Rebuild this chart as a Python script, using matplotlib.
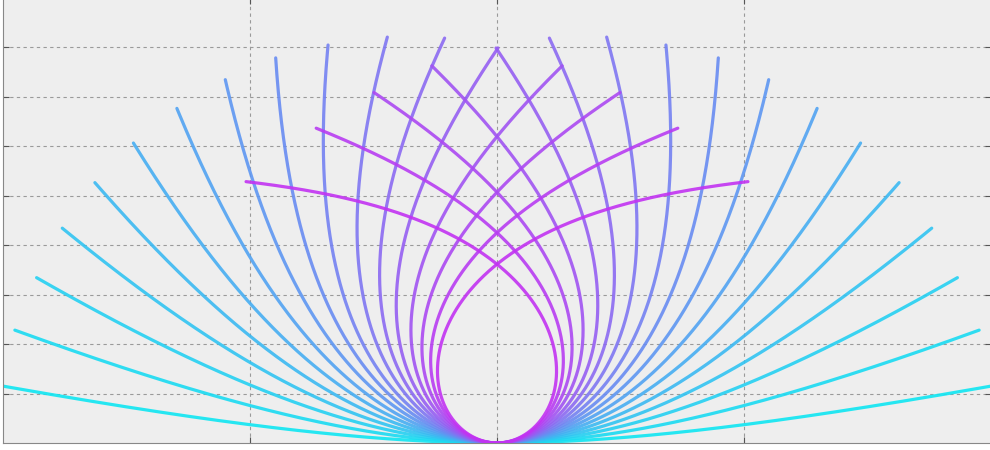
import numpy as np
import matplotlib
matplotlib.use("Agg")
import matplotlib.pyplot as plt

# Tip of every left-hand strand in data units (the right-hand strands are mirror images)
tip_x = [-5.03, -4.88, -4.66, -4.40, -4.07, -3.68, -3.24, -2.75, -2.24,
         -1.71, -1.11, -0.53, 0.01, 0.66, 1.245, 1.83, 2.54]
tip_y = [0.58, 1.14, 1.67, 2.17, 2.63, 3.03, 3.38, 3.67, 3.89,
         4.02, 4.10, 4.09, 3.99, 3.81, 3.54, 3.18, 2.64]

# Decay length of the bending (fraction of strand length), outermost and innermost strand
decay_outer = 0.50
decay_inner = 0.30

x_ticks = [-2.5, 0.0, 2.5]
y_ticks = [0.5, 1.0, 1.5, 2.0, 2.5, 3.0, 3.5, 4.0]

u = np.linspace(0.0, 1.0, 600)
du = np.diff(u)


def unit_path(turn, lam):
    """Strand of unit length leaving the origin leftwards, bending clockwise
    by `turn` radians in total, with the bending fading out exponentially."""
    phi = turn * (1.0 - np.exp(-u / lam)) / (1.0 - np.exp(-1.0 / lam))
    dx = -np.cos(phi)
    dy = np.sin(phi)
    px = np.concatenate([[0.0], np.cumsum(0.5 * (dx[1:] + dx[:-1]) * du)])
    py = np.concatenate([[0.0], np.cumsum(0.5 * (dy[1:] + dy[:-1]) * du)])
    return px, py


turn_grid = np.linspace(0.0, 3.6, 500)

fig = plt.figure(figsize=(9.9, 4.5), dpi=100)
fig.patch.set_facecolor("white")
ax = fig.add_axes([3 / 990, 7 / 450, 988 / 990, 445.5 / 450])
ax.set_facecolor("#eeeeee")

cmap = plt.get_cmap("cool")
n = len(tip_x)
for i, (tx, ty) in enumerate(zip(tip_x, tip_y)):
    frac = i / (n - 1)
    lam = decay_outer + (decay_inner - decay_outer) * frac
    dirs, chords = [], []
    for t in turn_grid:
        px, py = unit_path(t, lam)
        dirs.append(np.arctan2(py[-1], -px[-1]))
        chords.append(np.hypot(px[-1], py[-1]))
    dirs = np.maximum.accumulate(np.array(dirs))
    turn = np.interp(np.arctan2(ty, -tx), dirs, turn_grid)
    ratio = np.interp(turn, turn_grid, np.array(chords))
    length = np.hypot(tx, ty) / ratio
    px, py = unit_path(turn, lam)
    r, g, b, _ = cmap(0.78 * frac)
    color = (0.9 * r + 0.06, 0.9 * g, 0.95 * b)
    for sign in (1, -1):
        ax.plot(sign * px * length, py * length, color=color, lw=2.3,
                alpha=0.9, solid_capstyle="round", zorder=2 + i)

ax.set_xlim(-5, 5)
ax.set_ylim(0, 4.5)
ax.set_xticks(x_ticks)
ax.set_yticks(y_ticks)
ax.grid(True, color="#9a9a9a", linestyle=(0, (3, 3)), linewidth=0.8, zorder=1)
ax.set_axisbelow(True)
ax.tick_params(direction="in", length=4, width=0.8, colors="#555555",
               top=True, right=True, labelleft=False, labelbottom=False)
for sp in ax.spines.values():
    sp.set_color("#888888")
    sp.set_linewidth(0.8)

fig.savefig("out.png", dpi=100)
